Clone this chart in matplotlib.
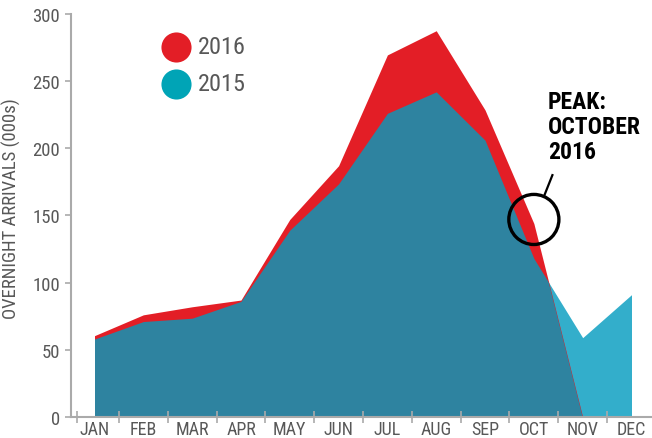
import numpy as np
import matplotlib
matplotlib.use("Agg")
from matplotlib import pyplot as plt

plt.rcParams['font.family'] = ['Roboto Condensed', 'DejaVu Sans']

# Overnight arrivals (000s) by month
months = ["JAN", "FEB", "MAR", "APR", "MAY", "JUN",
          "JUL", "AUG", "SEP", "OCT", "NOV", "DEC"]
arrivals_2016 = [60.5, 76, 82, 87, 147, 187, 269.5, 287.5, 228.5, 144, 0, 0]
arrivals_2015 = [58, 71, 73.5, 86, 139, 173.5, 226, 242, 206, 118, 59, 91]
y_ticks = [0, 50, 100, 150, 200, 250, 300]

red = "#e31e26"
light_blue = "#33aecb"
dark_teal = "#2e83a0"
legend_blue = "#00a4b6"
grey_text = "#585858"
axis_grey = "#aaaaaa"

x = np.arange(len(months))

fig = plt.figure(figsize=(6.52, 4.39), dpi=100)
ax = fig.add_axes([0.109, 0.048, 0.891, 0.918])

# 2015 only (light), 2016 on top, overlap in dark teal
ax.fill_between(x, 0, arrivals_2015, color=light_blue, lw=0)
red_fill = ax.fill_between(x, 0, arrivals_2016, color=red, lw=0)
overlap = ax.fill_between(x, 0, arrivals_2015, color=dark_teal, lw=0)
overlap.set_clip_path(red_fill.get_paths()[0], ax.transData)

ax.set_xlim(-0.48, 11.42)
ax.set_ylim(0, 300)

ax.set_xticks(x)
ax.set_xticklabels(months)
ax.set_xticks([-0.36] + list(x[:-1] + 0.5), minor=True)
ax.tick_params(axis='x', which='major', length=0, pad=2,
               labelsize=13, labelcolor=grey_text)
ax.tick_params(axis='x', which='minor', length=8, width=1.2,
               direction='inout', color=axis_grey)

ax.set_yticks(y_ticks)
ax.tick_params(axis='y', length=4, width=1.2, color=axis_grey, pad=4,
               labelsize=13.5, labelcolor=grey_text)

for side in ['top', 'right']:
    ax.spines[side].set_visible(False)
for side in ['left', 'bottom']:
    ax.spines[side].set_color(axis_grey)
    ax.spines[side].set_linewidth(1.5)

ax.set_ylabel("OVERNIGHT ARRIVALS (000s)", fontsize=13.5, color=grey_text)
ax.yaxis.set_label_coords(-0.086, 0.52)

# legend
ax.scatter([0.181], [0.918], s=470, color=red, transform=ax.transAxes,
           clip_on=False, lw=0)
ax.scatter([0.181], [0.827], s=470, color=legend_blue, transform=ax.transAxes,
           clip_on=False, lw=0)
ax.text(0.218, 0.918, "2016", transform=ax.transAxes, fontsize=17.5,
        color=grey_text, va='center')
ax.text(0.218, 0.827, "2015", transform=ax.transAxes, fontsize=17.5,
        color=grey_text, va='center')

# peak annotation
ax.scatter([9.0], [147], s=1300, facecolors='none', edgecolors='black',
           linewidths=2.4, zorder=5)
ax.plot([9.21, 9.38], [164.5, 180], color='black', lw=1.6, zorder=5)
ax.text(9.29, 243, "PEAK:\nOCTOBER\n2016", fontsize=17, fontweight='bold',
        va='top', ha='left', linespacing=1.1, color='black')

plt.savefig("out.png", dpi=100)
plt.close()
